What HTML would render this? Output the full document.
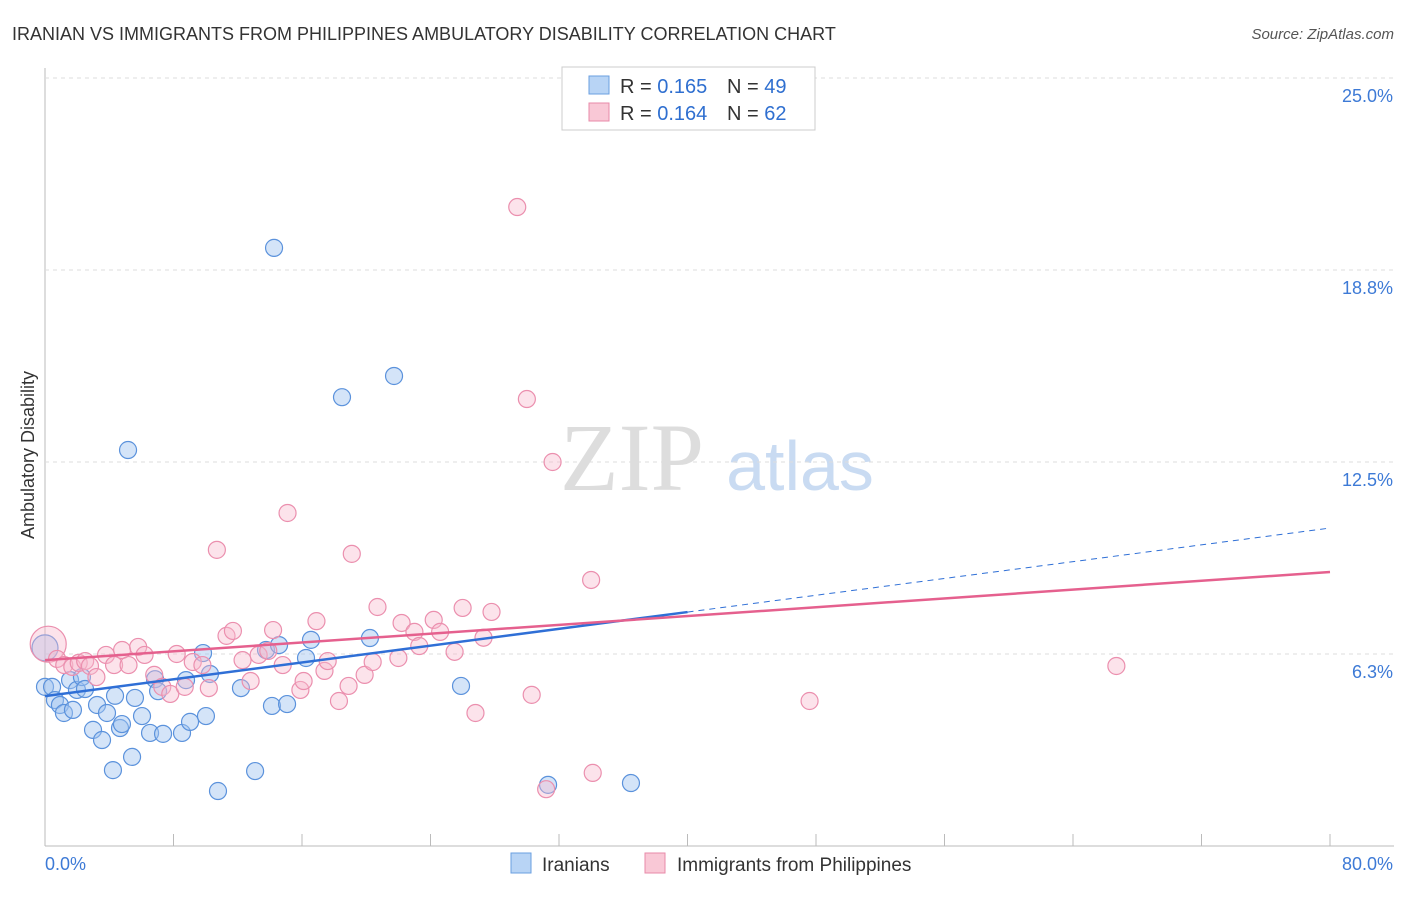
<!DOCTYPE html>
<html><head><meta charset="utf-8"><style>
body{margin:0;background:#fff;font-family:"Liberation Sans",sans-serif;}
</style></head><body>
<svg id="c" width="1406" height="892" xmlns="http://www.w3.org/2000/svg">
<text x="12" y="40" font-size="18" fill="#333">IRANIAN VS IMMIGRANTS FROM PHILIPPINES AMBULATORY DISABILITY CORRELATION CHART</text>
<text x="1394" y="39" font-size="15" fill="#555" font-style="italic" text-anchor="end">Source: ZipAtlas.com</text>
<text x="34" y="455" font-size="18" fill="#333" text-anchor="middle" transform="rotate(-90 34 455)">Ambulatory Disability</text>
<g><text x="632" y="490" font-size="96" font-family="Liberation Serif,serif" fill="#ddd" text-anchor="middle">ZIP</text><text x="800" y="490" font-size="70" fill="#c9dbf2" text-anchor="middle">atlas</text></g>
<g id="grid"></g><g id="pts"></g><g id="lines"></g>
<g>
<rect x="562" y="67" width="253" height="63" fill="#fff" stroke="#ccc"/>
<rect x="589" y="76" width="20" height="18" fill="#b8d4f5" stroke="#6a9fe0"/>
<rect x="589" y="103" width="20" height="18" fill="#f9c8d6" stroke="#e88aa8"/>
<text x="620" y="93" font-size="20" fill="#333">R = <tspan fill="#2f6fd0">0.165</tspan></text>
<text x="727" y="93" font-size="20" fill="#333">N = <tspan fill="#2f6fd0">49</tspan></text>
<text x="620" y="120" font-size="20" fill="#333">R = <tspan fill="#2f6fd0">0.164</tspan></text>
<text x="727" y="120" font-size="20" fill="#333">N = <tspan fill="#2f6fd0">62</tspan></text>
</g>
<g>
<rect x="511" y="853" width="20" height="20" fill="#b8d4f5" stroke="#6a9fe0"/>
<text x="542" y="871" font-size="19" fill="#333">Iranians</text>
<rect x="645" y="853" width="20" height="20" fill="#f9c8d6" stroke="#e88aa8"/>
<text x="677" y="871" font-size="19" fill="#333">Immigrants from Philippines</text>
</g>
</svg>
<script>
const yTicks=[6.25,12.5,18.75,25];
const yTickLabels=["6.3%","12.5%","18.8%","25.0%"];
const xLabels=["0.0%","80.0%"];
const iranX=[0,0,0.44,0.62,0.93,1.18,1.56,1.74,1.99,2.30,2.49,2.99,3.24,3.55,3.86,4.23,4.36,4.67,4.79,5.17,5.42,5.60,6.04,6.54,6.85,7.04,7.35,8.53,8.78,9.03,9.84,10.02,10.27,10.77,12.20,13.08,13.76,14.13,14.26,14.57,15.07,16.25,16.56,18.49,20.23,21.73,25.90,31.32,36.48];
const iranY=[6.45,5.18,5.18,4.75,4.59,4.33,5.40,4.43,5.08,5.50,5.11,3.78,4.59,3.45,4.33,2.47,4.89,3.84,3.97,12.89,2.90,4.82,4.23,3.68,5.43,5.04,3.65,3.68,5.40,4.04,6.28,4.23,5.60,1.79,5.14,2.44,6.38,4.56,19.47,6.54,4.62,6.12,6.71,14.61,6.77,15.30,5.21,1.99,2.05];
const philX=[0.2,0.75,1.2,1.7,2.1,2.5,2.8,3.2,3.8,4.3,4.8,5.2,5.8,6.2,6.8,7.3,7.8,8.2,8.7,9.2,9.8,10.2,10.7,11.3,11.7,12.3,12.8,13.3,13.9,14.2,14.8,15.1,15.9,16.1,16.9,17.4,17.6,18.3,18.9,19.1,19.9,20.4,20.7,22.0,22.2,23.0,23.3,24.2,24.6,25.5,26.0,26.8,27.3,27.8,29.4,30.0,30.3,31.6,31.2,34.0,34.1,47.6,66.7];
const philY=[6.57,6.09,5.89,5.83,5.96,6.02,5.86,5.5,6.22,5.89,6.38,5.89,6.48,6.22,5.57,5.18,4.95,6.25,5.18,5.99,5.89,5.14,9.64,6.84,7.0,6.05,5.37,6.22,6.35,7.03,5.89,10.84,5.08,5.37,7.32,5.7,6.02,4.72,5.21,9.51,5.57,5.99,7.78,6.12,7.26,6.97,6.51,7.36,6.97,6.32,7.75,4.33,6.78,7.62,20.8,14.55,4.92,12.5,1.85,8.66,2.38,4.72,5.86];
const iranTrend=[4.88,10.35], philTrend=[6.05,8.92];
const X=v=>45+v/80*1285, Y=v=>846-v/6.25*192;
const NS="http://www.w3.org/2000/svg";
function mk(t,a,p){const e=document.createElementNS(NS,t);for(const k in a)e.setAttribute(k,a[k]);p.appendChild(e);return e;}
const g=document.getElementById('grid');
let ax=mk('line',{x1:45,y1:68,x2:45,y2:846,stroke:'#bbb'},g);

let bx=mk('line',{x1:45,y1:846,x2:1394,y2:846,stroke:'#bbb'},g);

for(let i=0;i<=10;i++){const t=mk('line',{x1:45+i*128.5,y1:834,x2:45+i*128.5,y2:846,stroke:'#bbb'},g);
}
yTicks.forEach((v,i)=>{const l=mk('line',{x1:45,y1:Y(v),x2:1394,y2:Y(v),stroke:'#ddd','stroke-dasharray':'4 4'},g);

const t=mk('text',{x:1393,y:Y(v)+24,'font-size':18,fill:'#3d7ad6','text-anchor':'end'},g);t.textContent=yTickLabels[i];
});
xLabels.forEach((s,i)=>{const t=mk('text',{x:i?1393:45,y:870,'font-size':18,fill:'#3d7ad6','text-anchor':i?'end':'start'},g);t.textContent=s;
});
const p=document.getElementById('pts');
iranX.forEach((x,i)=>{const c=mk('circle',{cx:X(x),cy:Y(iranY[i]),r:i<1?13:8.5,fill:'rgba(160,196,240,0.45)',stroke:'#5b92dc','stroke-width':1.2},p);
});
philX.forEach((x,i)=>{const c=mk('circle',{cx:X(x),cy:Y(philY[i]),r:i<1?18:8.5,fill:'rgba(248,186,205,0.4)',stroke:'#eb8fae','stroke-width':1.2},p);
});
const L=document.getElementById('lines');
const ym=iranTrend[0]+(iranTrend[1]-iranTrend[0])*0.5;
let a=mk('line',{x1:X(0),y1:Y(iranTrend[0]),x2:X(40),y2:Y(ym),stroke:'#2f6fd6','stroke-width':2.5},L);

let b=mk('line',{x1:X(40),y1:Y(ym),x2:X(80),y2:Y(iranTrend[1]),stroke:'#2f6fd6','stroke-width':1,'stroke-dasharray':'6 5'},L);

let c=mk('line',{x1:X(0),y1:Y(philTrend[0]),x2:X(80),y2:Y(philTrend[1]),stroke:'#e5608e','stroke-width':2.5},L);

</script>
</body></html>
